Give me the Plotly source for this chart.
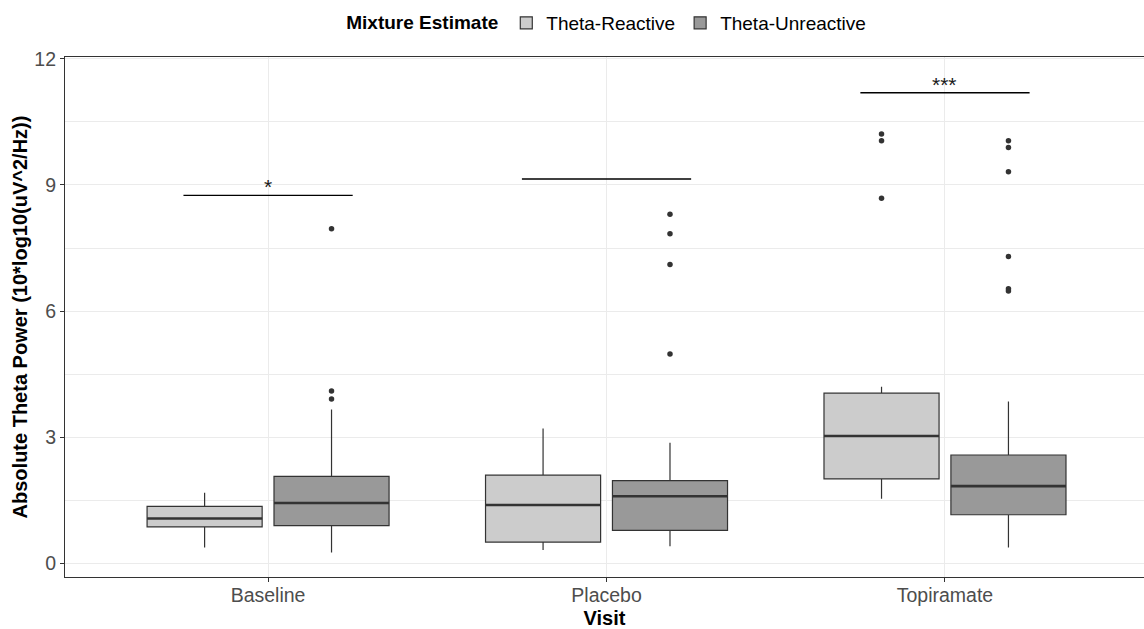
import plotly.graph_objects as go

# Visits (x categories)
visits = ["Baseline", "Placebo", "Topiramate"]

# Box summary statistics per visit: Theta-Reactive
reactive_q1 = [0.87, 0.51, 2.01]
reactive_median = [1.07, 1.39, 3.03]
reactive_q3 = [1.36, 2.10, 4.05]
reactive_lower = [0.38, 0.32, 1.54]
reactive_upper = [1.68, 3.21, 4.20]
reactive_outliers = [[], [], [10.21, 10.05, 8.68]]

# Box summary statistics per visit: Theta-Unreactive
unreactive_q1 = [0.90, 0.79, 1.16]
unreactive_median = [1.44, 1.60, 1.84]
unreactive_q3 = [2.07, 1.97, 2.58]
unreactive_lower = [0.26, 0.41, 0.38]
unreactive_upper = [3.66, 2.87, 3.85]
unreactive_outliers = [[7.96, 4.10, 3.91], [8.30, 7.84, 7.11, 4.98],
                       [10.05, 9.89, 9.31, 7.30, 6.53, 6.48]]

# Significance brackets between groups at each visit
sig_heights = [8.75, 9.14, 11.19]
sig_labels = ["*", "", "***"]

y_ticks = [0, 3, 6, 9, 12]

DODGE = 0.1875
BOX_W = 0.34
INK = "#333333"
FONT = "Liberation Sans, Arial, sans-serif"

groups = [
    ("Theta-Reactive", "#CCCCCC", -DODGE, reactive_q1, reactive_median, reactive_q3,
     reactive_lower, reactive_upper, reactive_outliers),
    ("Theta-Unreactive", "#999999", DODGE, unreactive_q1, unreactive_median, unreactive_q3,
     unreactive_lower, unreactive_upper, unreactive_outliers),
]

fig = go.Figure()
idx = list(range(len(visits)))

for name, fill, off, q1, med, q3, lo, hi, outs in groups:
    xs = [i + off for i in idx]
    fig.add_trace(go.Box(
        name=name, x=xs, q1=q1, median=med, q3=q3,
        lowerfence=lo, upperfence=hi,
        width=BOX_W, whiskerwidth=0, boxpoints=False,
        fillcolor=fill, line=dict(color=INK, width=1.2),
        hoverinfo="skip",
    ))
    # thicker median bar
    mx, my = [], []
    for x, m in zip(xs, med):
        mx += [x - BOX_W / 2, x + BOX_W / 2, None]
        my += [m, m, None]
    fig.add_trace(go.Scatter(x=mx, y=my, mode="lines", showlegend=False,
                             line=dict(color=INK, width=2.6), hoverinfo="skip"))
    # outlying points
    ox, oy = [], []
    for x, pts in zip(xs, outs):
        ox += [x] * len(pts)
        oy += pts
    fig.add_trace(go.Scatter(x=ox, y=oy, mode="markers", showlegend=False,
                             marker=dict(color=INK, size=5.5), hoverinfo="skip"))

# significance brackets
for i, h, lab in zip(idx, sig_heights, sig_labels):
    fig.add_shape(type="line", x0=i - 0.25, x1=i + 0.25, y0=h, y1=h,
                  xref="x", yref="y", line=dict(color="black", width=1.3))
    if lab:
        fig.add_annotation(x=i, y=h, text=lab, showarrow=False, yanchor="bottom",
                           xref="x", yref="y", yshift=-5,
                           font=dict(family=FONT, size=21, color="#1a1a1a"))

fig.update_layout(
    width=1144, height=629,
    margin=dict(l=64.5, r=0, t=57.3, b=52.3, autoexpand=False),
    paper_bgcolor="white", plot_bgcolor="white",
    boxmode="overlay",
    font=dict(family=FONT, color="#4D4D4D"),
    legend=dict(
        orientation="h", x=0.503, xanchor="center", y=1 - 4 / 629, yanchor="top",
        yref="container", xref="paper",
        title=dict(text="<b>Mixture Estimate</b>", side="left",
                   font=dict(family=FONT, size=19, color="black")),
        font=dict(family=FONT, size=19, color="black"),
        itemclick=False, itemdoubleclick=False,
        bgcolor="rgba(0,0,0,0)",
    ),
    xaxis=dict(
        range=[-0.6, 2.588], tickmode="array", tickvals=idx, ticktext=visits,
        showgrid=True, gridcolor="#EBEBEB", gridwidth=1.1, zeroline=False,
        showline=True, linecolor=INK, linewidth=1.2, mirror=True,
        ticks="outside", ticklen=4, tickcolor=INK, tickwidth=1.1,
        ticklabelstandoff=-4,
        tickfont=dict(family=FONT, size=19.5, color="#4D4D4D"),
        title=dict(text="<b>Visit</b>", standoff=6,
                   font=dict(family=FONT, size=20, color="black")),
        automargin=False,
    ),
    yaxis=dict(
        range=[-0.32, 12.04], tickmode="array", tickvals=y_ticks,
        ticktext=[str(v) for v in y_ticks],
        showgrid=True, gridcolor="#EBEBEB", gridwidth=1.1, zeroline=False,
        minor=dict(tickvals=[1.5, 4.5, 7.5, 10.5], showgrid=True,
                   gridcolor="#EBEBEB", gridwidth=0.6),
        showline=True, linecolor=INK, linewidth=1.2,
        ticks="outside", ticklen=4, tickcolor=INK, tickwidth=1.1,
        tickfont=dict(family=FONT, size=19.5, color="#4D4D4D"),
        title=dict(text="<b>Absolute Theta Power (10*log10(uV^2/Hz))</b>", standoff=1,
                   font=dict(family=FONT, size=20, color="black")),
        automargin=False,
    ),
)

fig.write_html("out.html")
